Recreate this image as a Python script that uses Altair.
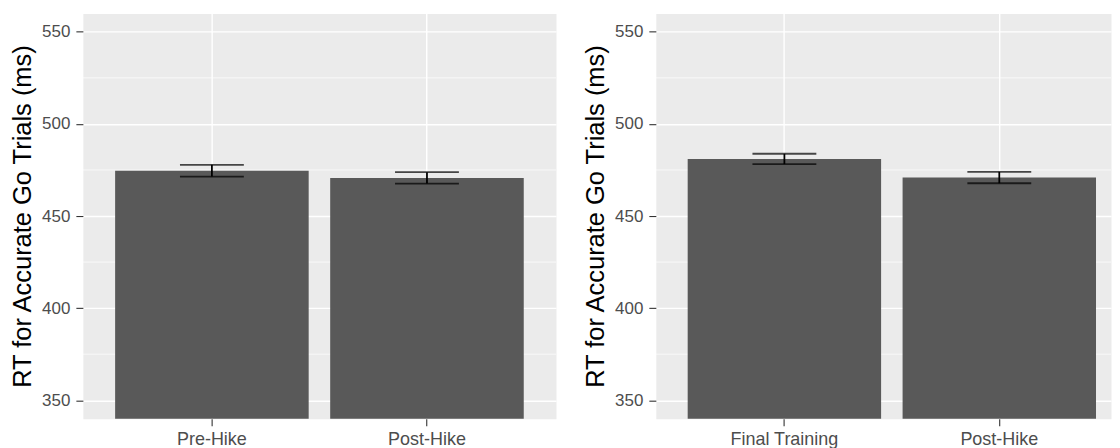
import altair as alt
import pandas as pd

# ---- data ----
LEFT_CONDITIONS = ["Pre-Hike", "Post-Hike"]
LEFT_MEANS = [474.6, 470.7]
LEFT_SE = [3.2, 3.1]

RIGHT_CONDITIONS = ["Final Training", "Post-Hike"]
RIGHT_MEANS = [481.0, 470.9]
RIGHT_SE = [2.8, 3.1]

Y_TICKS = [350, 400, 450, 500, 550]
Y_MINOR = [375, 425, 475, 525]
Y_DOMAIN = [340, 560]
Y_TITLE = "RT for Accurate Go Trials (ms)"

FONT = "Liberation Sans"
BAR_COLOR = "#595959"
PANEL_BG = "#EBEBEB"


def make_panel(conds, means, ses, width, x_scale):
    df = pd.DataFrame({
        "cond": conds,
        "mean": means,
        "lo": [m - s for m, s in zip(means, ses)],
        "hi": [m + s for m, s in zip(means, ses)],
    })
    minor = pd.DataFrame({"v": Y_MINOR})
    y_scale = alt.Scale(domain=Y_DOMAIN, nice=False, zero=False)
    y_axis = alt.Axis(
        title=Y_TITLE, values=Y_TICKS, grid=True, gridColor="white", gridWidth=1.4,
        domain=False, ticks=True, tickSize=7, tickColor="#333333", tickWidth=1.1,
        labelFontSize=17, labelColor="#4D4D4D", labelPadding=6, labelFont=FONT,
        titleFont=FONT, titleFontSize=25.5, titleFontWeight="normal",
        titleColor="black", titlePadding=6,
    )
    x_enc = alt.X(
        "cond:N", sort=conds, scale=x_scale,
        axis=alt.Axis(
            title=None, grid=True, gridColor="white", gridWidth=1.4, domain=False,
            ticks=True, tickSize=7, tickColor="#333333", tickWidth=1.1,
            labelFontSize=18, labelColor="#4D4D4D", labelPadding=5,
            labelFont=FONT, labelAngle=0, bandPosition=0.5,
        ),
    )
    minor_rules = alt.Chart(minor).mark_rule(color="white", strokeWidth=0.7).encode(
        y=alt.Y("v:Q", scale=y_scale, axis=y_axis)
    )
    bars = alt.Chart(df).mark_bar(color=BAR_COLOR, clip=True).encode(
        x=x_enc, y=alt.Y("mean:Q", scale=y_scale, axis=y_axis)
    )
    stems = alt.Chart(df).mark_rule(color="black", strokeWidth=1.8).encode(
        x=x_enc, y=alt.Y("lo:Q", scale=y_scale, axis=y_axis), y2="hi:Q"
    )
    cap_lo = alt.Chart(df).mark_tick(color="black", thickness=1.8, size=64).encode(
        x=x_enc, y=alt.Y("lo:Q", scale=y_scale, axis=y_axis)
    )
    cap_hi = alt.Chart(df).mark_tick(color="black", thickness=1.8, size=64).encode(
        x=x_enc, y=alt.Y("hi:Q", scale=y_scale, axis=y_axis)
    )
    return alt.layer(minor_rules, bars, stems, cap_lo, cap_hi).properties(
        width=width, height=406
    )


left = make_panel(
    LEFT_CONDITIONS, LEFT_MEANS, LEFT_SE, 474,
    alt.Scale(paddingInner=0.1, paddingOuter=0.15),
)
right = make_panel(
    RIGHT_CONDITIONS, RIGHT_MEANS, RIGHT_SE, 456,
    alt.Scale(paddingInner=0.1, paddingOuter=0.109, align=0.68),
)

chart = alt.hconcat(left, right, spacing=26).properties(
    padding={"left": 2, "top": 4, "right": 0, "bottom": 0},
    background="white",
).configure_view(
    fill=PANEL_BG, stroke="transparent"
)

chart.save("out.html", embed_options={"renderer": "svg", "actions": False})
